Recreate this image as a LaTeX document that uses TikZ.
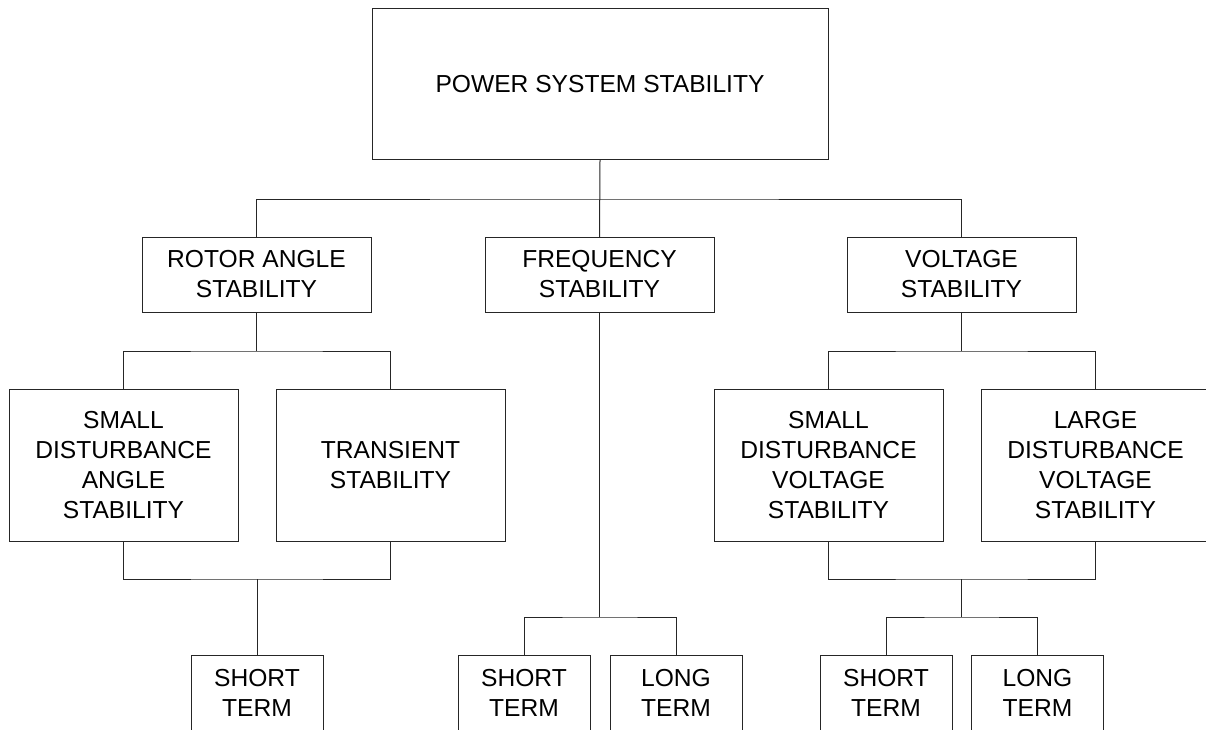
\documentclass[tikz,border=0pt]{standalone}
\usepackage{fontspec}
\setmainfont{Liberation Sans}
\begin{document}
\begin{tikzpicture}[x=1pt,y=-1pt,
  every node/.style={font=\fontsize{24.6}{30}\selectfont, align=center, inner sep=0pt, outer sep=0pt},
  box/.style={draw=black!85, line width=1pt, minimum width=229pt, minimum height=75pt},
  tallbox/.style={box, minimum height=152pt},
  smallbox/.style={box, minimum width=132pt, minimum height=76pt},
  conn/.style={draw=black!85, line width=1pt}]
\useasboundingbox (0,0) rectangle (1206,730);
\clip (0,0) rectangle (1206,730);
% nodes
\node[box, minimum width=456pt, minimum height=151pt] (top) at (600,84.5) {POWER SYSTEM STABILITY};
\node[box] (rotor) at (256.5,274.5) {ROTOR ANGLE\\STABILITY};
\node[box] (freq) at (599.5,274.5) {FREQUENCY\\STABILITY};
\node[box] (volt) at (961.5,274.5) {VOLTAGE\\STABILITY};
\node[tallbox] (sdas) at (123.5,465) {SMALL\\DISTURBANCE\\ANGLE\\STABILITY};
\node[tallbox] (tr) at (390.5,465) {TRANSIENT\\STABILITY};
\node[tallbox] (sdvs) at (828.5,465) {SMALL\\DISTURBANCE\\VOLTAGE\\STABILITY};
\node[tallbox] (ldvs) at (1095.5,465) {LARGE\\DISTURBANCE\\VOLTAGE\\STABILITY};
\node[smallbox] (lst) at (257,693) {SHORT\\TERM};
\node[smallbox] (fst) at (524,693) {SHORT\\TERM};
\node[smallbox] (flt) at (676,693) {LONG\\TERM};
\node[smallbox] (vst) at (886,693) {SHORT\\TERM};
\node[smallbox] (vlt) at (1037.5,693) {LONG\\TERM};
% junctions
\coordinate (j1) at (600,199);
\coordinate (rj) at (256.5,351);
\coordinate (aj) at (257,579);
\coordinate (fj) at (599.5,617);
\coordinate (vj) at (961.5,351);
\coordinate (vj2) at (961.5,579);
\coordinate (vj3) at (961.5,617);
% connectors
\draw[conn] (top.south) -- (freq.north);
\draw[conn] (rotor.north) |- (j1) -| (volt.north);
\draw[conn] (rotor.south) -- (rj);
\draw[conn] (sdas.north) |- (rj) -| (tr.north);
\draw[conn] (sdas.south) |- (aj) -| (tr.south);
\draw[conn] (aj) -- (lst.north);
\draw[conn] (freq.south) -- (fj);
\draw[conn] (fst.north) |- (fj) -| (flt.north);
\draw[conn] (volt.south) -- (vj);
\draw[conn] (sdvs.north) |- (vj) -| (ldvs.north);
\draw[conn] (sdvs.south) |- (vj2) -| (ldvs.south);
\draw[conn] (vj2) -- (vj3);
\draw[conn] (vst.north) |- (vj3) -| (vlt.north);
\end{tikzpicture}
\end{document}
